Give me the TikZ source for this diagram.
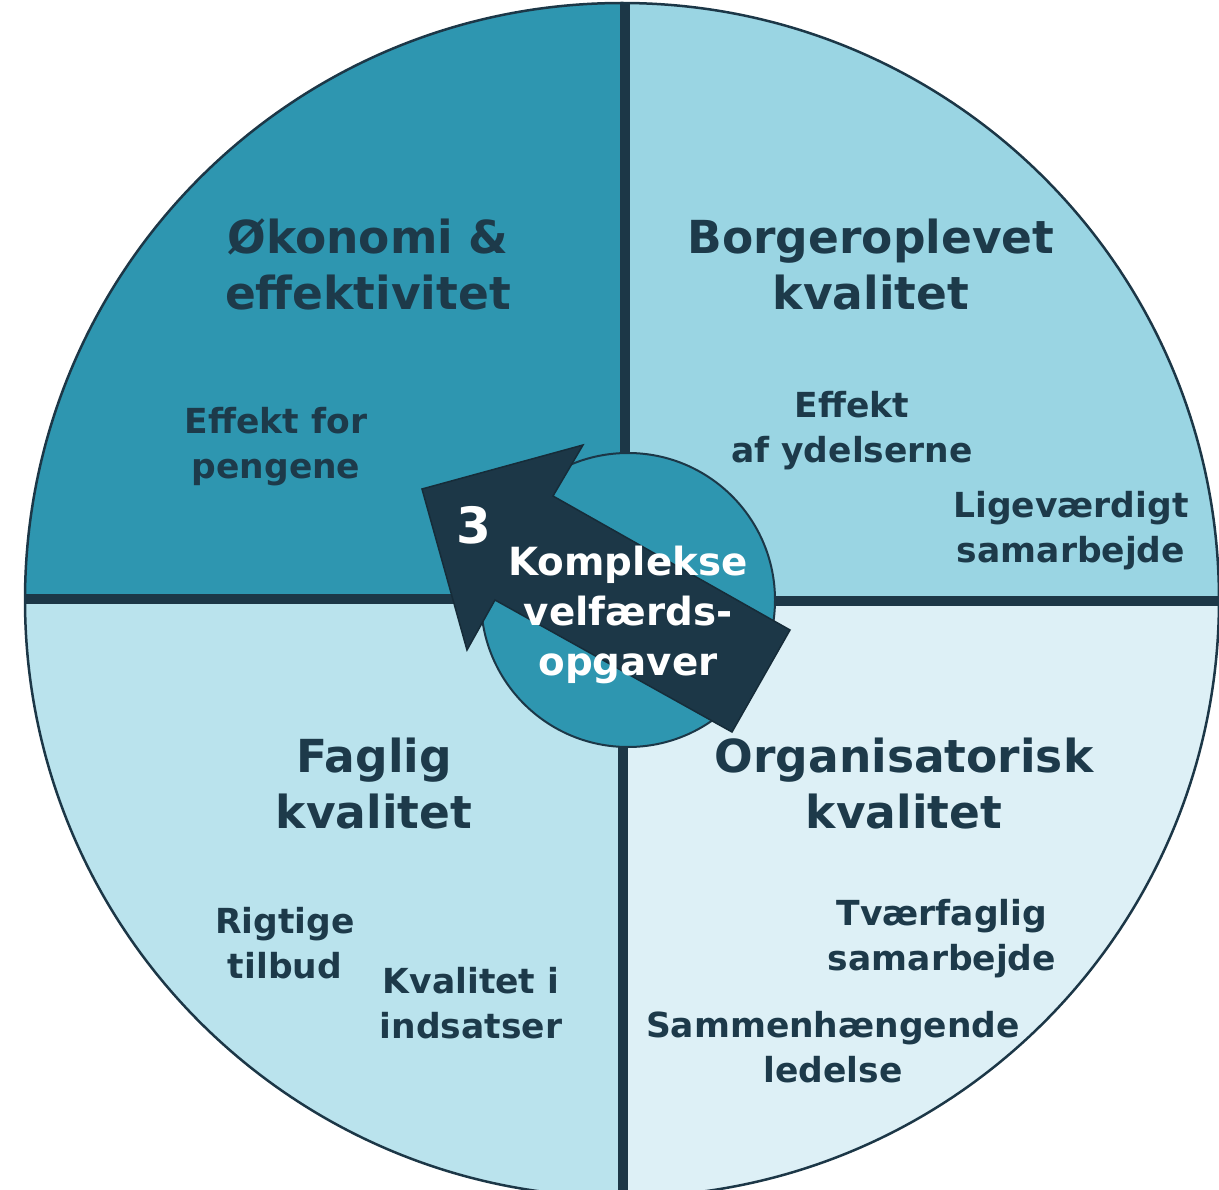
\documentclass[tikz,border=0pt]{standalone}
\usepackage{fontspec}
\setmainfont{DejaVu Sans}
\definecolor{qTL}{HTML}{2E96B0}
\definecolor{qTR}{HTML}{9AD5E3}
\definecolor{qBL}{HTML}{BAE3ED}
\definecolor{qBR}{HTML}{DDF0F6}
\definecolor{darkc}{HTML}{1C3747}
\definecolor{txtc}{HTML}{1D3A4A}
\tikzset{
  titletext/.style={anchor=base, align=center, text=txtc, inner sep=0pt,
    font={\fontsize{45.5}{56}\selectfont\bfseries}},
  itemtext/.style={anchor=base, align=center, text=txtc, inner sep=0pt,
    font={\fontsize{34.5}{45}\selectfont\bfseries}},
  centertext/.style={anchor=base, align=center, text=white, inner sep=0pt,
    font={\fontsize{38.8}{50}\selectfont\bfseries}},
  divider/.style={draw=darkc, line width=10.5pt},
}
\begin{document}
\begin{tikzpicture}[x=1pt, y=-1pt]
\useasboundingbox (0,0) rectangle (1219,1190);
\clip (0,0) rectangle (1219,1190);
% quadrants
\begin{scope}
  \clip (622,600) circle [radius=597];
  \fill[qTL] (0,0) rectangle (624,600);
  \fill[qTR] (624,0) rectangle (1219,600);
  \fill[qBL] (0,600) rectangle (623,1190);
  \fill[qBR] (623,600) rectangle (1219,1190);
  \draw[divider] (625,0) -- (625,600);
  \draw[divider] (623,600) -- (623,1190);
  \draw[divider] (0,599) -- (623,599);
  \draw[divider] (623,601) -- (1219,601);
\end{scope}
\draw[darkc, line width=2.5pt] (622,600) circle [radius=597];
% inner circle
\node (hub) [circle, fill=qTL, draw=darkc, line width=2pt, minimum size=294pt, inner sep=0pt] at (628,600) {};
% arrow
\coordinate (atip) at (422,489);
\coordinate (abarbR) at (583,445);
\coordinate (anotchR) at (553,496);
\coordinate (atailR) at (790,630);
\coordinate (atailL) at (732,732);
\coordinate (anotchL) at (495,600);
\coordinate (abarbL) at (467,650);
\filldraw[fill=darkc, draw=darkc!80!black, line width=1.5pt, line join=miter]
  (atip) -- (abarbR) -- (anotchR) -- (atailR) -- (atailL) -- (anotchL) -- (abarbL) -- cycle;
% texts (anchor=base is the baseline of the last line)
\node (tlT) [titletext] at (368,310) {Økonomi \&\\effektivitet};
\node (tlI) [itemtext] at (276,478) {Effekt for\\pengene};
\node (trT) [titletext] at (871,310) {Borgeroplevet\\kvalitet};
\node (trI1) [itemtext] at (852,462) {Effekt\\af ydelserne};
\node (trI2) [itemtext] at (1071,562) {Ligeværdigt\\samarbejde};
\node (blT) [titletext] at (374,828) {Faglig\\kvalitet};
\node (blI1) [itemtext] at (285,978) {Rigtige\\tilbud};
\node (blI2) [itemtext] at (471,1038) {Kvalitet i\\indsatser};
\node (brT) [titletext] at (904,828) {Organisatorisk\\kvalitet};
\node (brI1) [itemtext] at (942,970) {Tværfaglig\\samarbejde};
\node (brI2) [itemtext] at (833,1082) {Sammenhængende\\ledelse};
\node (ctr) [centertext] at (628,675) {Komplekse\\velfærds-\\opgaver};
\node (num) [anchor=base, text=white, inner sep=0pt, font={\fontsize{50}{60}\selectfont\bfseries}] at (474,543) {3};
\end{tikzpicture}
\end{document}
